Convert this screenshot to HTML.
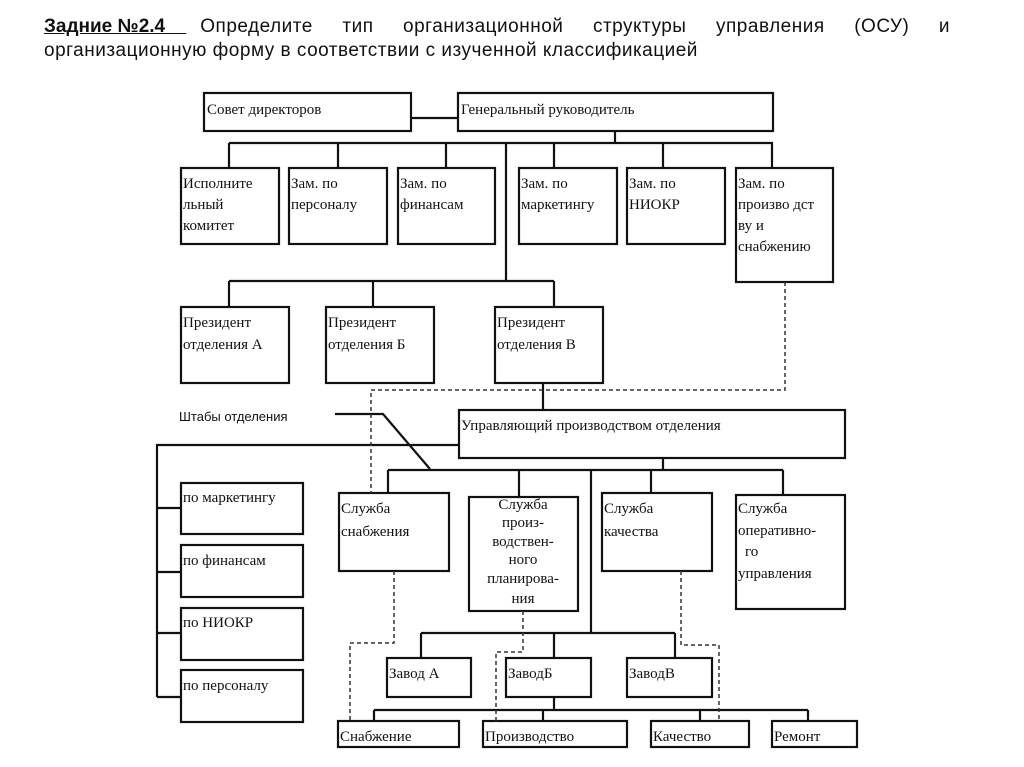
<!DOCTYPE html>
<html><head><meta charset="utf-8"><style>
body{margin:0;background:#fff;width:1024px;height:767px;overflow:hidden;position:relative}
.t{position:absolute;left:44px;width:906px;font:19px "Liberation Sans","Noto Sans CJK SC",sans-serif;letter-spacing:.5px;color:#111;white-space:nowrap}
.l1{top:16px;text-align:justify;text-align-last:justify;white-space:normal}
.l2{top:40px}
.t b{text-decoration:underline;display:inline-block;white-space:pre;margin-right:14px;letter-spacing:0}
svg{position:absolute;left:0;top:0}
svg text{font-family:"Liberation Serif","Noto Serif CJK SC",serif;font-size:15px;fill:#111}
</style></head><body>
<div class="t l1"><b>Задние №2.4    </b>Определите тип организационной структуры управления (ОСУ) и</div>
<div class="t l2">организационную форму в соответствии с изученной классификацией</div>
<svg width="1024" height="767" viewBox="0 0 1024 767">
<g fill="#fff" stroke="#111" stroke-width="2.2">
<rect x="204" y="93" width="207" height="38"/>
<rect x="458" y="93" width="315" height="38"/>
<rect x="181" y="168" width="98" height="76"/>
<rect x="289" y="168" width="98" height="76"/>
<rect x="398" y="168" width="97" height="76"/>
<rect x="519" y="168" width="98" height="76"/>
<rect x="627" y="168" width="98" height="76"/>
<rect x="736" y="168" width="97" height="114"/>
<rect x="181" y="307" width="108" height="76"/>
<rect x="326" y="307" width="108" height="76"/>
<rect x="495" y="307" width="108" height="76"/>
<rect x="459" y="410" width="386" height="48"/>
<rect x="181" y="483" width="122" height="51"/>
<rect x="181" y="545" width="122" height="52"/>
<rect x="181" y="608" width="122" height="52"/>
<rect x="181" y="670" width="122" height="52"/>
<rect x="339" y="493" width="110" height="78"/>
<rect x="469" y="497" width="109" height="114"/>
<rect x="602" y="493" width="110" height="78"/>
<rect x="736" y="495" width="109" height="114"/>
<rect x="387" y="658" width="84" height="39"/>
<rect x="506" y="658" width="85" height="39"/>
<rect x="627" y="658" width="85" height="39"/>
<rect x="338" y="721" width="121" height="26"/>
<rect x="483" y="721" width="144" height="26"/>
<rect x="651" y="721" width="98" height="26"/>
<rect x="772" y="721" width="85" height="26"/>
</g>
<g fill="none" stroke="#111" stroke-width="2.2">
<path d="M411 118H458M615 131V143M229 143H773M229 143V168M338 143V168M446 143V168M554 143V168M663 143V168M772 143V168"/>
<path d="M506 143V281M229 281H554M229 281V307M373 281V307M554 281V307M543 383V410"/>
<path d="M335 414H383L430 469"/>
<path d="M459 445H157V697M157 508H181M157 572H181M157 633H181M157 697H181"/>
<path d="M663 458V470M388 470H783M388 470V493M519 470V497M651 470V493M783 470V495M591 470V633"/>
<path d="M421 633H675M421 633V658M554 633V658M675 633V658M554 697V710M374 710H808M374 710V721M543 710V721M700 710V721M808 710V721"/>
</g>
<g fill="none" stroke="#333" stroke-width="1.5" stroke-dasharray="4,3">
<path d="M785 282V390H371V493"/>
<path d="M394 571V643H350V721"/>
<path d="M523 611V652H496V721"/>
<path d="M681 571V645H719V721"/>
</g>
<text x="207" y="114">Совет директоров</text>
<text x="461" y="114">Генеральный руководитель</text>
<text x="183" y="188">Исполните</text><text x="183" y="209">льный</text><text x="183" y="230">комитет</text>
<text x="291" y="188">Зам. по</text><text x="291" y="209">персоналу</text>
<text x="400" y="188">Зам. по</text><text x="400" y="209">финансам</text>
<text x="521" y="188">Зам. по</text><text x="521" y="209">маркетингу</text>
<text x="629" y="188">Зам. по</text><text x="629" y="209">НИОКР</text>
<text x="738" y="188">Зам. по</text><text x="738" y="209">произво дст</text><text x="738" y="230">ву и</text><text x="738" y="251">снабжению</text>
<text x="183" y="327">Президент</text><text x="183" y="349">отделения А</text>
<text x="328" y="327">Президент</text><text x="328" y="349">отделения Б</text>
<text x="497" y="327">Президент</text><text x="497" y="349">отделения В</text>
<text x="179" y="421" style="font-family:'Liberation Sans',sans-serif;font-size:13px">Штабы отделения</text>
<text x="461" y="430">Управляющий производством отделения</text>
<text x="183" y="502">по маркетингу</text>
<text x="183" y="565">по финансам</text>
<text x="183" y="627">по НИОКР</text>
<text x="183" y="690">по персоналу</text>
<text x="341" y="513">Служба</text><text x="341" y="536">снабжения</text>
<g style="font-family:'Liberation Sans',sans-serif;font-size:12px" text-anchor="middle">
<text x="523" y="509">Служба</text><text x="523" y="527">произ-</text><text x="523" y="546">водствен-</text><text x="523" y="564">ного</text><text x="523" y="583">планирова-</text><text x="523" y="603">ния</text>
</g>
<text x="604" y="513">Служба</text><text x="604" y="536">качества</text>
<text x="738" y="513">Служба</text><text x="738" y="535">оперативно-</text><text x="745" y="556">го</text><text x="738" y="578">управления</text>
<text x="389" y="678">Завод А</text>
<text x="508" y="678">ЗаводБ</text>
<text x="629" y="678">ЗаводВ</text>
<text x="340" y="741">Снабжение</text>
<text x="485" y="741">Производство</text>
<text x="653" y="741">Качество</text>
<text x="774" y="741">Ремонт</text>
</svg>
</body></html>
